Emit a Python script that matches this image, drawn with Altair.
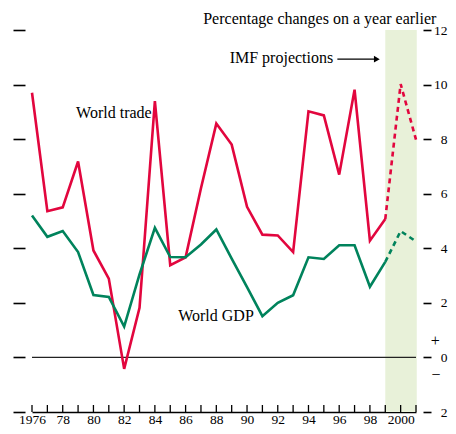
import altair as alt
import pandas as pd

years = list(range(1976, 2002))
trade = [9.7, 5.36, 5.5, 7.18, 3.92, 2.89, -0.42, 1.82, 9.39, 3.38, 3.67, 6.2, 8.57,
         7.8, 5.52, 4.5, 4.47, 3.86, 9.02, 8.87, 6.7, 9.81, 4.28, 5.07, 10.02, 7.98]
gdp = [5.2, 4.42, 4.63, 3.86, 2.29, 2.22, 1.13, 3.04, 4.75, 3.68, 3.67, 4.14, 4.69,
       3.62, 2.58, 1.51, 2.0, 2.28, 3.67, 3.61, 4.11, 4.11, 2.59, 3.5, 4.63, 4.25]
proj_start = 1999
y_ticks = [-2, 0, 2, 4, 6, 8, 10, 12]
x_label_years = list(range(1976, 2001, 2))

RED = "#E2063E"
GREEN = "#00835C"
BAND = "#E8F1D9"
FONT = "Liberation Serif"

rows = []
for s, vals in (("World trade", trade), ("World GDP", gdp)):
    for yr, v in zip(years, vals):
        if yr <= proj_start:
            rows.append({"year": yr, "value": v, "series": s, "seg": "actual"})
        if yr >= proj_start:
            rows.append({"year": yr, "value": v, "series": s, "seg": "proj"})
df = pd.DataFrame(rows)

xs = alt.Scale(domain=[1976, 2001], nice=False, zero=False)
ys = alt.Scale(domain=[-2, 12], nice=False, zero=False)
col = alt.Scale(domain=["World trade", "World GDP"], range=[RED, GREEN])

x_axis = alt.Axis(
    orient="bottom", values=x_label_years, ticks=False, tickSize=0,
    labelExpr="datum.value == 1976 || datum.value == 2000 ? toString(datum.value) : substring(toString(datum.value), 2, 4)",
    labelFont=FONT, labelFontSize=13.5, labelColor="black", labelPadding=0,
    labelBaseline="top", labelFlush=False, labelOverlap=False,
    domainColor="black", domainWidth=1.5, grid=False, title=None)


def X(field):
    return alt.X(field, scale=xs, axis=x_axis)


band_df = pd.DataFrame({"x": [proj_start], "x2": [2001.05], "y": [-2], "y2": [12]})
band = alt.Chart(band_df).mark_rect(color=BAND).encode(
    x=X("x:Q"),
    x2="x2:Q",
    y=alt.Y("y:Q", scale=ys, axis=alt.Axis(
        orient="left", values=y_ticks, labels=False, domain=False, tickSize=12,
        tickWidth=1.6, tickColor="black", offset=7, grid=False, title=None)),
    y2="y2:Q",
)

zero_df = pd.DataFrame({"x": [1976], "x2": [2001], "y": [0]})
zero = alt.Chart(zero_df).mark_rule(color="#222", strokeWidth=1.3).encode(
    x=X("x:Q"),
    x2="x2:Q",
    y=alt.Y("y:Q", scale=ys, axis=alt.Axis(
        orient="right", values=y_ticks, domain=False, tickSize=8, tickWidth=1.6,
        tickColor="black", offset=7, labelAlign="right", labelPadding=16,
        labelExpr="toString(abs(datum.value))", labelFont=FONT, labelFontSize=13.5,
        labelColor="black", labelBaseline="middle", grid=False, title=None)),
)

tick_df = pd.DataFrame({"year": years, "y": [-2] * len(years)})
xticks = alt.Chart(tick_df).mark_rule(color="black", strokeWidth=1.3).encode(
    x=X("year:Q"),
    y=alt.Y("y:Q", scale=ys, axis=None),
    y2=alt.value(375),
)

solid = alt.Chart(df[df.seg == "actual"]).mark_line(strokeWidth=2.6).encode(
    x=X("year:Q"),
    y=alt.Y("value:Q", scale=ys, axis=None),
    color=alt.Color("series:N", scale=col, legend=None),
)
dashed = alt.Chart(df[df.seg == "proj"]).mark_line(strokeWidth=2.6, strokeDash=[5, 4]).encode(
    x=X("year:Q"),
    y=alt.Y("value:Q", scale=ys, axis=None),
    color=alt.Color("series:N", scale=col, legend=None),
)

labels_df = pd.DataFrame({
    "text": ["World trade", "World GDP"],
    "x": [1981.33, 1987.98],
    "y": [8.96, 1.52],
})
series_labels = alt.Chart(labels_df).mark_text(font=FONT, fontSize=16, color="black",
                                               align="center", baseline="middle").encode(
    x=X("x:Q"),
    y=alt.Y("y:Q", scale=ys, axis=None),
    text="text:N",
)

right_df = pd.DataFrame({
    "text": ["Percentage changes on a year earlier", "IMF projections"],
    "x": [2002.33, 1995.61],
    "y": [12.42, 10.97],
})
right_labels = alt.Chart(right_df).mark_text(font=FONT, fontSize=16, color="black",
                                             align="right", baseline="middle").encode(
    x=X("x:Q"),
    y=alt.Y("y:Q", scale=ys, axis=None),
    text="text:N",
)

sign_df = pd.DataFrame({"text": ["+", "\u2212"], "x": [2002.25, 2002.3], "y": [0.62, -0.63]})
signs = alt.Chart(sign_df).mark_text(font=FONT, fontSize=16, color="black",
                                     align="center", baseline="middle").encode(
    x=X("x:Q"),
    y=alt.Y("y:Q", scale=ys, axis=None),
    text="text:N",
)

arrow_df = pd.DataFrame({"x": [1995.88], "x2": [1998.3], "y": [10.93]})
arrow_line = alt.Chart(arrow_df).mark_rule(color="black", strokeWidth=1.3).encode(
    x=X("x:Q"),
    x2="x2:Q",
    y=alt.Y("y:Q", scale=ys, axis=None),
)
head_df = pd.DataFrame({"x": [1998.45], "y": [10.93]})
arrow_head = alt.Chart(head_df).mark_point(shape="triangle-right", filled=True, color="black",
                                           size=45, opacity=1).encode(
    x=X("x:Q"),
    y=alt.Y("y:Q", scale=ys, axis=None),
)

chart = alt.layer(
    band, zero, xticks, solid, dashed, series_labels, right_labels, signs, arrow_line, arrow_head
).resolve_axis(y="independent").properties(
    width=384, height=382,
    autosize=alt.AutoSizeParams(type="none"),
    padding={"left": 24, "top": 22, "right": 32, "bottom": 14},
).configure_view(stroke=None).configure_axis(grid=False)

chart.save("out.html", embed_options={"renderer": "svg", "actions": False})
